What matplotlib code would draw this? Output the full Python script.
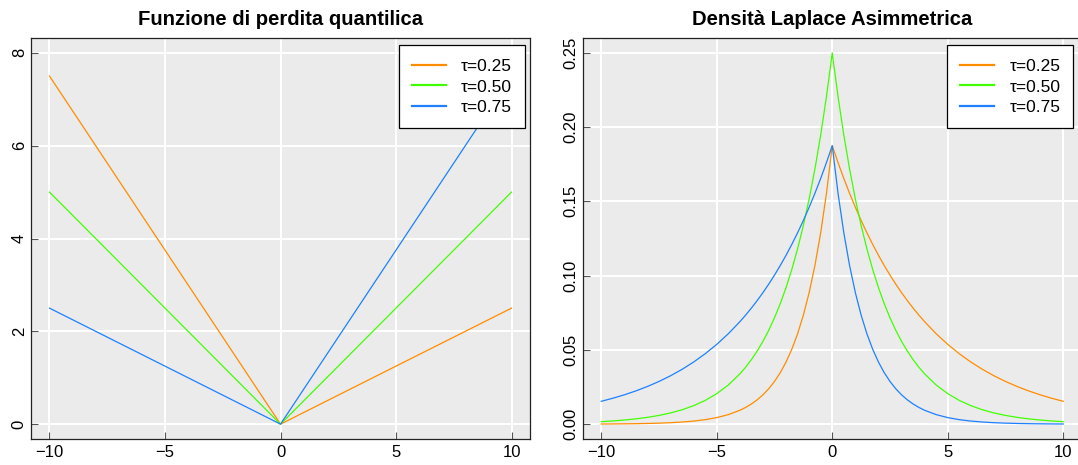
import matplotlib
matplotlib.use("Agg")
import matplotlib.pyplot as plt

plt.rcParams['font.family'] = ['Liberation Sans', 'DejaVu Sans']

# funzione di perdita: tre punti per ogni tau
x_loss = [-10, 0, 10]
loss_025 = [7.5, 0, 2.5]
loss_050 = [5.0, 0, 5.0]
loss_075 = [2.5, 0, 7.5]

# densita' laplace asimmetrica (piu' fitta vicino al picco)
x_dens = [-10, -9.5, -9, -8.5, -8, -7.5, -7, -6.5, -6, -5.5, -5, -4.5,
          -4, -3.75, -3.5, -3.25, -3, -2.75, -2.5, -2.25, -2, -1.75, -1.5, -1.25, -1, -0.75, -0.5, -0.25,
          0,
          0.25, 0.5, 0.75, 1, 1.25, 1.5, 1.75, 2, 2.25, 2.5, 2.75, 3, 3.25, 3.5, 3.75, 4,
          4.5, 5, 5.5, 6, 6.5, 7, 7.5, 8, 8.5, 9, 9.5, 10]
dens_025 = [0.00010, 0.00015, 0.00022, 0.00032, 0.00047, 0.00068, 0.00098, 0.00143, 0.00208, 0.00303,
            0.00441, 0.00642,
            0.00933, 0.01126, 0.01358, 0.01638, 0.01976, 0.02384, 0.02875, 0.03468, 0.04184, 0.05046,
            0.06087, 0.07343, 0.08857, 0.10683, 0.12887, 0.15544,
            0.1875,
            0.17614, 0.16547, 0.15544, 0.14603, 0.13718, 0.12887, 0.12106, 0.11372, 0.10683, 0.10036,
            0.09428, 0.08857, 0.08320, 0.07816, 0.07343, 0.06898,
            0.06087, 0.05372, 0.04741, 0.04184, 0.03692, 0.03258, 0.02875, 0.02538, 0.02239, 0.01976,
            0.01744, 0.01539]
dens_050 = [0.00168, 0.00216, 0.00278, 0.00357, 0.00458, 0.00588, 0.00755, 0.00969, 0.01245, 0.01598,
            0.02052, 0.02635,
            0.03383, 0.03834, 0.04344, 0.04923, 0.05578, 0.06321, 0.07163, 0.08116, 0.09197, 0.10422,
            0.11809, 0.13382, 0.15163, 0.17182, 0.19470, 0.22062,
            0.25,
            0.22062, 0.19470, 0.17182, 0.15163, 0.13382, 0.11809, 0.10422, 0.09197, 0.08116, 0.07163,
            0.06321, 0.05578, 0.04923, 0.04344, 0.03834, 0.03383,
            0.02635, 0.02052, 0.01598, 0.01245, 0.00969, 0.00755, 0.00588, 0.00458, 0.00357, 0.00278,
            0.00216, 0.00168]
dens_075 = dens_025[::-1]  # tau=0.75 e' lo specchio di tau=0.25

labels = ["τ=0.25", "τ=0.50", "τ=0.75"]
colors = ["#FF8C00", "#40FF00", "#1E80FF"]


def r_style(ax, xlim, ylim, xticks, yticks, ylabels):
    ax.set_facecolor("#EBEBEB")
    ax.set_xlim(xlim)
    ax.set_ylim(ylim)
    ax.set_xticks(xticks)
    ax.set_xticklabels(["\u221210", "\u22125", "0", "5", "10"])
    ax.set_yticks(yticks)
    ax.set_yticklabels(ylabels, rotation=90, va="center")
    ax.grid(True, color="white", linewidth=1.5)
    ax.set_axisbelow(True)
    # tacche verso l'interno come nel grafico originale
    ax.tick_params(direction="in", length=5.3, width=0.8, color="#555555", labelsize=12)
    ax.tick_params(axis="x", pad=4.3)
    ax.tick_params(axis="y", pad=3)
    for s in ax.spines.values():
        s.set_linewidth(0.9)
        s.set_color("#222222")


fig = plt.figure(figsize=(10.78, 4.65), dpi=100)
ax1 = fig.add_axes([0.02876, 0.05591, 0.4629, 0.86237])
ax2 = fig.add_axes([0.54063, 0.05591, 0.4628, 0.86237])

for y, c, l in zip([loss_025, loss_050, loss_075], colors, labels):
    ax1.plot(x_loss, y, color=c, linewidth=0.9, label=l)
r_style(ax1, (-10.8, 10.8), (-0.32, 8.32), [-10, -5, 0, 5, 10], [0, 2, 4, 6, 8],
        ["0", "2", "4", "6", "8"])
ax1.set_title("Funzione di perdita quantilica", fontsize=14.6, fontweight="bold", pad=9)

for y, c, l in zip([dens_025, dens_050, dens_075], colors, labels):
    ax2.plot(x_dens, y, color=c, linewidth=0.9, label=l)
r_style(ax2, (-10.8, 10.8), (-0.01, 0.26), [-10, -5, 0, 5, 10],
        [0, 0.05, 0.10, 0.15, 0.20, 0.25], ["0.00", "0.05", "0.10", "0.15", "0.20", "0.25"])
ax2.set_title("Densità Laplace Asimmetrica", fontsize=14.6, fontweight="bold", pad=9)

# posizione delle legende in coordinate figura
for ax, xr in ((ax1, 0.4872), (ax2, 0.99564)):
    leg = ax.legend(loc="upper right", bbox_to_anchor=(xr, 0.9022), bbox_transform=fig.transFigure,
                    fontsize=12.5, fancybox=False, framealpha=1, edgecolor="black", borderaxespad=0,
                    handlelength=1.95, handletextpad=0.86, borderpad=0.75, labelspacing=0.33)
    leg.get_frame().set_linewidth(0.9)
    for h in leg.get_lines():
        h.set_linewidth(1.6)

fig.savefig("out.png", dpi=100)
